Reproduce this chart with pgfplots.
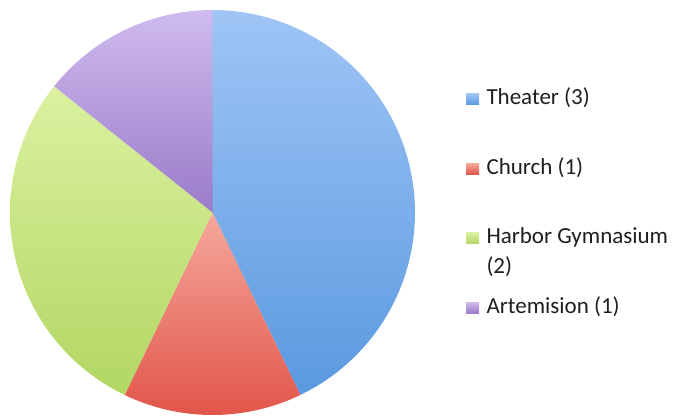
\documentclass[border=0pt]{standalone}
\usepackage{fontspec}
\setmainfont{Carlito}
\usepackage{pgfplots}
\pgfplotsset{compat=1.18}
\definecolor{bluT}{HTML}{9FC5F6}
\definecolor{bluB}{HTML}{5A99DF}
\definecolor{redT}{HTML}{F5A89C}
\definecolor{redB}{HTML}{E2554A}
\definecolor{grnT}{HTML}{DBF1A0}
\definecolor{grnB}{HTML}{B2D763}
\definecolor{purT}{HTML}{CFBBEE}
\definecolor{purB}{HTML}{9A7BC9}
% values
\def\vA{3}\def\vB{1}\def\vC{2}\def\vD{1}
\pgfmathsetmacro{\tot}{\vA+\vB+\vC+\vD}
\pgfmathsetmacro{\aA}{90}
\pgfmathsetmacro{\aB}{\aA-360*\vA/\tot}
\pgfmathsetmacro{\aC}{\aB-360*\vB/\tot}
\pgfmathsetmacro{\aD}{\aC-360*\vC/\tot}
\pgfmathsetmacro{\aE}{\aD-360*\vD/\tot}
\def\cx{212.5}\def\cy{203.5}\def\rr{202.5}
\begin{document}
\begin{tikzpicture}
\begin{axis}[
  scale only axis, width=682bp, height=416bp,
  xmin=0, xmax=682, ymin=0, ymax=416,
  hide axis, clip=false,
  legend image code/.code={\path[#1,draw=none] (0bp,-5.5bp) rectangle (13bp,5.5bp);},
  legend cell align=left,
  legend style={at={(axis cs:466,327.5)}, anchor=north west, draw=none, fill=none,
    inner sep=0pt, outer sep=0pt, row sep=48bp, column sep=0bp,
    font=\fontsize{23bp}{29.5bp}\selectfont, text=black!88,
    nodes={inner xsep=7.5bp, inner ysep=0pt, text height=16.5bp, text depth=5bp}},
]
\path (axis cs:0,0) rectangle (axis cs:682,416);
\addplot[draw=none, top color=bluT, bottom color=bluB, domain=\aB:\aA, samples=90]
  ({\cx+\rr*cos(x)},{\cy+\rr*sin(x)}) -- (axis cs:\cx,\cy) -- cycle;
\addlegendentry{Theater (3)}
\addplot[draw=none, top color=redT, bottom color=redB, domain=\aC:\aB, samples=40]
  ({\cx+\rr*cos(x)},{\cy+\rr*sin(x)}) -- (axis cs:\cx,\cy) -- cycle;
\addlegendentry{Church (1)}
\addplot[draw=none, top color=grnT, bottom color=grnB, domain=\aD:\aC, samples=70]
  ({\cx+\rr*cos(x)},{\cy+\rr*sin(x)}) -- (axis cs:\cx,\cy) -- cycle;
\addlegendentry{\smash{\begin{tabular}[t]{@{}l@{}}Harbor Gymnasium\\(2)\end{tabular}}}
\addplot[draw=none, top color=purT, bottom color=purB, domain=\aE:\aD, samples=40]
  ({\cx+\rr*cos(x)},{\cy+\rr*sin(x)}) -- (axis cs:\cx,\cy) -- cycle;
\addlegendentry{Artemision (1)}
\end{axis}
\end{tikzpicture}
\end{document}
